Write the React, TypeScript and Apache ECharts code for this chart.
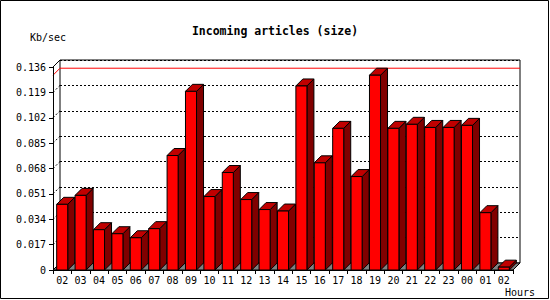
import React, { useEffect, useRef } from "react";
import * as echarts from "echarts";

const categories = ["02","03","04","05","06","07","08","09","10","11","12","13","14","15","16","17","18","19","20","21","22","23","00","01","02"];
const values = [0.044, 0.050, 0.027, 0.0243, 0.0216, 0.0277, 0.0767, 0.1197, 0.0492, 0.0653, 0.0472, 0.0405, 0.0395, 0.1233, 0.0718, 0.0949, 0.0626, 0.1305, 0.0949, 0.0976, 0.0955, 0.0955, 0.0969, 0.0384, 0.0019];
const yTicks = [0, 0.017, 0.034, 0.051, 0.068, 0.085, 0.102, 0.119, 0.136];
const title = "Incoming articles (size)";
const yName = "Kb/sec";
const xName = "Hours";

const D = 7;
const MONO = "DejaVu Sans Mono";

export default function App() {
  const ref = useRef<HTMLDivElement>(null);
  useEffect(() => {
    const chart = echarts.init(ref.current!, null, { renderer: "svg" });
    const maxVal = Math.max(...values);
    const yMin = yTicks[0];
    const yMax = yTicks[yTicks.length - 1];
    const step = yTicks[1] - yTicks[0];

    const frameRender = (params: any, api: any) => {
      const cs = params.coordSys;
      const x0 = cs.x, x1 = cs.x + cs.width, yb = cs.y + cs.height;
      const children: any[] = [];
      children.push({
        type: "polygon",
        shape: { points: [[x0, yb], [x1, yb], [x1 + D, yb - D], [x0 + D, yb - D]] },
        style: { fill: "#808080", stroke: "#000", lineWidth: 1 },
      });
      yTicks.forEach((t) => {
        if (t === yMin) return;
        const p = api.coord([0, t]);
        const solid = t === yMax;
        children.push({
          type: "line",
          shape: { x1: x0, y1: p[1], x2: x0 + D, y2: p[1] - D },
          style: { stroke: "#000", lineWidth: 1, lineDash: solid ? null : [2, 2] },
        });
      });
      const m = api.coord([0, maxVal]);
      children.push({
        type: "polyline",
        shape: { points: [[x0, m[1]], [x0 + D, m[1] - D], [x1 + D, m[1] - D]] },
        style: { stroke: "#ff0000", lineWidth: 1, fill: null },
      });
      return { type: "group", children };
    };

    const barRender = (params: any, api: any) => {
      const idx = api.value(0);
      const v = api.value(1);
      const base = api.coord([idx, 0]);
      const top = api.coord([idx, v]);
      const slot = api.size([1, 0])[0];
      const w = slot * 0.6;
      const l = base[0] - w / 2;
      const r = l + w;
      const ty = top[1];
      const by = base[1];
      return {
        type: "group",
        children: [
          {
            type: "polygon",
            shape: { points: [[r, ty], [r + D, ty - D], [r + D, by - D], [r, by]] },
            style: { fill: "#800000", stroke: "#000", lineWidth: 1 },
          },
          {
            type: "polygon",
            shape: { points: [[l, ty], [l + D, ty - D], [r + D, ty - D], [r, ty]] },
            style: { fill: "#c00000", stroke: "#000", lineWidth: 1 },
          },
          {
            type: "rect",
            shape: { x: l, y: ty, width: w, height: by - ty },
            style: { fill: "#ff0000", stroke: "#000", lineWidth: 1 },
          },
        ],
      };
    };

    chart.setOption({
      animation: false,
      title: {
        text: title,
        left: "center",
        top: 20,
        textStyle: { fontFamily: MONO, fontWeight: "bold", fontSize: 11.5, color: "#000" },
      },
      grid: [
        { left: 53, top: 67, right: 37, bottom: 30, show: false },
        { left: 60, top: 60, right: 30, bottom: 37, show: true, backgroundColor: "#fff", borderColor: "#000", borderWidth: 1 },
      ],
      xAxis: [
        {
          type: "category",
          gridIndex: 0,
          data: categories,
          boundaryGap: true,
          axisLine: { lineStyle: { color: "#000", width: 1 } },
          axisTick: { show: true, length: 4, lineStyle: { color: "#000" } },
          axisLabel: { interval: 0, margin: 5, fontFamily: MONO, fontSize: 10, color: "#000" },
          z: 5,
        },
        {
          type: "category",
          gridIndex: 1,
          data: categories,
          show: false,
        },
      ],
      yAxis: [
        {
          type: "value",
          gridIndex: 0,
          min: yMin,
          max: yMax,
          interval: step,
          axisLine: { show: true, lineStyle: { color: "#000", width: 1 } },
          axisTick: { show: true, length: 4, lineStyle: { color: "#000" } },
          axisLabel: {
            margin: 7,
            fontFamily: MONO,
            fontSize: 10,
            color: "#000",
            formatter: (v: number) => (v === 0 ? "0" : v.toFixed(3)),
          },
          splitLine: { show: false },
          z: 5,
        },
        {
          type: "value",
          gridIndex: 1,
          min: yMin,
          max: yMax,
          interval: step,
          axisLine: { show: false },
          axisTick: { show: false },
          axisLabel: { show: false },
          splitLine: { show: true, lineStyle: { color: "#000", type: [2, 2], width: 1 } },
        },
      ],
      series: [
        {
          type: "custom",
          xAxisIndex: 0,
          yAxisIndex: 0,
          z: 1,
          clip: false,
          renderItem: frameRender,
          data: [[0, maxVal]],
          silent: true,
        },
        {
          type: "custom",
          xAxisIndex: 0,
          yAxisIndex: 0,
          z: 2,
          clip: false,
          renderItem: barRender,
          data: values.map((v, i) => [i, v]),
          silent: true,
        },
      ],
      graphic: [
        {
          type: "rect",
          shape: { x: 0.5, y: 0.5, width: 548, height: 298 },
          style: { fill: null, stroke: "#000", lineWidth: 1 },
          silent: true,
        },
        {
          type: "text",
          x: 30,
          y: 37,
          style: { text: yName, font: `10px "${MONO}"`, fill: "#000", verticalAlign: "middle" },
        },
        {
          type: "text",
          x: 505,
          y: 292,
          style: { text: xName, font: `10px "${MONO}"`, fill: "#000", verticalAlign: "middle" },
        },
      ],
    });
    return () => chart.dispose();
  }, []);
  return <div ref={ref} style={{ position: "absolute", left: 0, top: 0, width: 550, height: 300 }} />;
}
